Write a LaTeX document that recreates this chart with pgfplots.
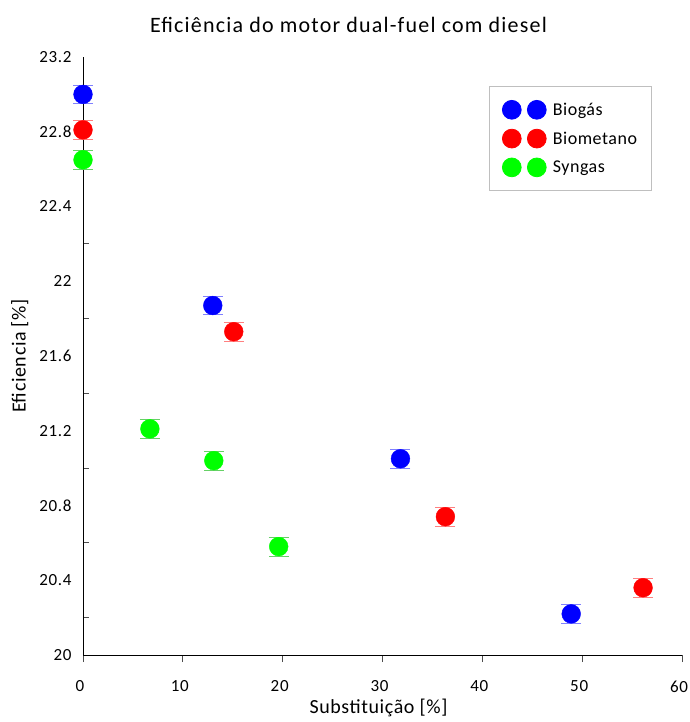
\documentclass[border=0pt]{standalone}
\usepackage{pgfplots}
\pgfplotsset{compat=1.18}
\usepackage{fontspec}
\setmainfont{Carlito}
\definecolor{cblue}{RGB}{0,0,255}
\definecolor{cred}{RGB}{255,0,0}
\definecolor{cgreen}{RGB}{0,255,0}
\begin{document}
\begin{tikzpicture}
\path[use as bounding box] (0,0) rectangle (689pt,722pt);
\begin{axis}[
  at={(83pt,67pt)}, anchor=south west,
  scale only axis, width=599pt, height=598pt,
  xmin=0, xmax=60, ymin=20, ymax=23.2,
  axis lines*=left,
  axis line style={line width=0.9pt},
  xtick={0,10,...,60},
  ytick={20,20.4,...,23.2},
  yticklabels={20,20.4,20.8,21.2,21.6,22,22.4,22.8,23.2},
  minor ytick={20.2,20.6,...,23.0},
  xtick align=outside, ytick align=inside,
  major tick length=7pt, minor tick length=6pt,
  every major y tick/.append style={draw=none},
  every tick/.append style={line width=0.8pt, black!70},
  /pgf/number format/assume math mode=true,
  ticklabel style={font=\fontsize{17}{19}\selectfont\addfontfeatures{LetterSpace=4}},
  xticklabel style={yshift=-15pt, xshift=-3pt},
  yticklabel style={xshift=-8pt},
  title={Eficiência do motor dual-fuel com diesel},
  title style={font=\fontsize{22}{26}\selectfont\addfontfeatures{LetterSpace=5.5}, at={(0.5,1)}, yshift=15pt, xshift=-34pt},
  xlabel={Substituição [\%]},
  ylabel={Eficiencia [\%]},
  label style={font=\fontsize{20}{23}\selectfont\addfontfeatures{LetterSpace=3}},
  xlabel style={yshift=0pt, xshift=-4pt},
  ylabel style={yshift=4pt},
  legend style={at={(0.950,0.9515)}, anchor=north east, draw=black!25, line width=0.8pt,
    font=\fontsize{18}{21}\selectfont\addfontfeatures{LetterSpace=3}, row sep=10pt, inner xsep=12.5pt, inner ysep=14pt},
  legend cell align=left,
  legend image code/.code={\draw[#1] plot coordinates {(0pt,0pt) (25pt,0pt)}; \path (39pt,0pt);},
  clip=false,
]
\addplot[only marks, mark=*, mark size=9.4pt, draw=none, fill=cblue, mark options={draw=cblue, fill=cblue},
  error bars/.cd, y dir=both, y fixed=0.05,
  error bar style={line width=0.7pt, color=cblue},
  error mark options={rotate=90, mark size=10pt, line width=0.8pt, color=cblue!50}]
  coordinates {(0,23.0) (13.0,21.87) (31.8,21.05) (48.9,20.22)};
\addlegendentry{Biogás}
\addplot[only marks, mark=*, mark size=9.4pt, draw=none, fill=cred, mark options={draw=cred, fill=cred},
  error bars/.cd, y dir=both, y fixed=0.05,
  error bar style={line width=0.7pt, color=cred},
  error mark options={rotate=90, mark size=10pt, line width=0.8pt, color=cred!50}]
  coordinates {(0,22.81) (15.1,21.73) (36.3,20.74) (56.1,20.36)};
\addlegendentry{Biometano}
\addplot[only marks, mark=*, mark size=9.4pt, draw=none, fill=cgreen, mark options={draw=cgreen, fill=cgreen},
  error bars/.cd, y dir=both, y fixed=0.05,
  error bar style={line width=0.7pt, color=cgreen},
  error mark options={rotate=90, mark size=10pt, line width=0.8pt, color=cgreen!70!black!60}]
  coordinates {(0,22.65) (6.7,21.21) (13.1,21.04) (19.6,20.58)};
\addlegendentry{Syngas}
\end{axis}
\end{tikzpicture}
\end{document}
